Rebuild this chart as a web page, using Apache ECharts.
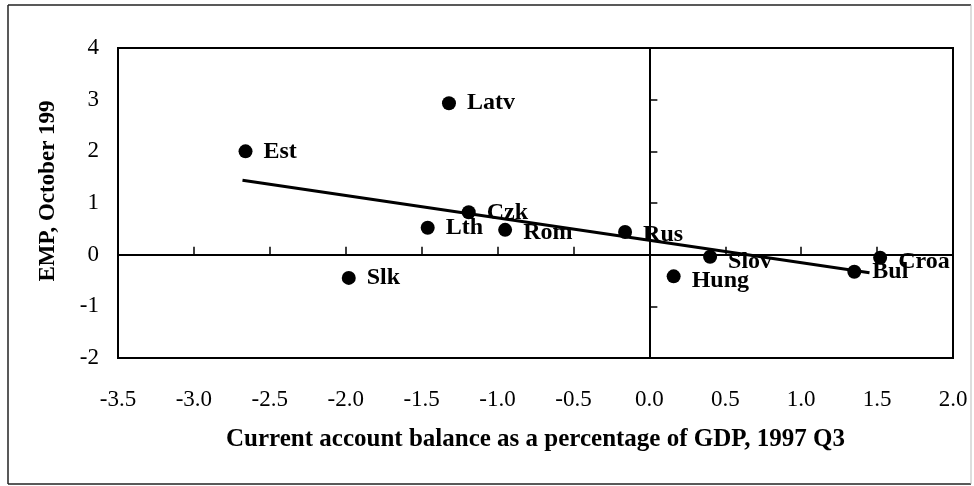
<!DOCTYPE html>
<html>
<head>
<meta charset="utf-8">
<title>EMP vs current account balance</title>
<script src="https://cdn.jsdelivr.net/npm/echarts@6/dist/echarts.min.js"></script>
<style>
  html, body { margin: 0; padding: 0; background: #fff; }
  #chart { width: 974px; height: 486px; }
</style>
</head>
<body>
<div id="chart"></div>
<script>
// countries and their (current account, EMP) readings
const countries = ['Est', 'Latv', 'Czk', 'Lth', 'Rom', 'Rus', 'Slk', 'Slov', 'Hung', 'Croa', 'Bul'];
const currentAccount = [-2.66, -1.32, -1.19, -1.46, -0.95, -0.16, -1.98, 0.40, 0.16, 1.52, 1.35];
const emp = [2.0, 2.93, 0.82, 0.52, 0.48, 0.44, -0.45, -0.04, -0.42, -0.06, -0.33];

// fitted line end points
const fitX = [-2.68, 1.45];
const fitY = [1.44, -0.35];

// axis ranges
const xMin = -3.5, xMax = 2.0, xStep = 0.5;
const yMin = -2, yMax = 4, yStep = 1;

const serif = "'Liberation Serif', 'Times New Roman', serif";

// small nudges for labels that sit off their dot
const labelOffsets = {
  Slov: [0, 5],
  Croa: [0, 4],
  Rus: [0, 3],
  Rom: [0, 3],
  Hung: [0, 4]
};

const chart = echarts.init(document.getElementById('chart'));

const points = countries.map((name, i) => {
  const p = { name: name, value: [currentAccount[i], emp[i]] };
  if (labelOffsets[name]) {
    p.label = { offset: labelOffsets[name] };
  }
  return p;
});

chart.setOption({
  backgroundColor: '#fff',
  animation: false,
  grid: {
    left: 118,
    right: 21,
    top: 48,
    bottom: 128,
    show: true,
    borderColor: '#000',
    borderWidth: 2
  },
  graphic: [
    { type: 'line', shape: { x1: 8, y1: 5, x2: 971, y2: 5 }, style: { stroke: '#222', lineWidth: 1.5 } },
    { type: 'line', shape: { x1: 8, y1: 5, x2: 8, y2: 484 }, style: { stroke: '#222', lineWidth: 1.5 } },
    { type: 'line', shape: { x1: 8, y1: 484, x2: 971, y2: 484 }, style: { stroke: '#222', lineWidth: 1.5 } },
    { type: 'line', shape: { x1: 971, y1: 5, x2: 971, y2: 484 }, style: { stroke: '#bbb', lineWidth: 1 } }
  ],
  xAxis: [
    {
      type: 'value',
      min: xMin,
      max: xMax,
      interval: xStep,
      position: 'bottom',
      axisLine: { show: false, onZero: false },
      axisTick: { show: false },
      splitLine: { show: false },
      axisLabel: {
        margin: 30,
        color: '#000',
        fontFamily: serif,
        fontSize: 23,
        formatter: v => v.toFixed(1)
      },
      name: 'Current account balance as a percentage of GDP, 1997 Q3',
      nameLocation: 'middle',
      nameGap: 69,
      nameTextStyle: {
        color: '#000',
        fontFamily: serif,
        fontWeight: 'bold',
        fontSize: 25
      }
    },
    {
      type: 'value',
      min: xMin,
      max: xMax,
      interval: xStep,
      position: 'bottom',
      axisLine: { show: true, onZero: true, onZeroAxisIndex: 0, lineStyle: { color: '#000', width: 2 } },
      axisTick: { show: true, inside: true, length: 8, lineStyle: { color: '#000', width: 1.5 } },
      axisLabel: { show: false },
      splitLine: { show: false }
    }
  ],
  yAxis: [
    {
      type: 'value',
      min: yMin,
      max: yMax,
      interval: yStep,
      position: 'left',
      axisLine: { show: false, onZero: false },
      axisTick: { show: false },
      splitLine: { show: false },
      axisLabel: {
        margin: 19,
        color: '#000',
        fontFamily: serif,
        fontSize: 23
      },
      name: 'EMP, October 199',
      nameLocation: 'middle',
      nameGap: 58,
      nameTextStyle: {
        color: '#000',
        fontFamily: serif,
        fontWeight: 'bold',
        fontSize: 23,
        padding: [0, 0, 0, 24]
      }
    },
    {
      type: 'value',
      min: yMin,
      max: yMax,
      interval: yStep,
      position: 'left',
      axisLine: { show: true, onZero: true, onZeroAxisIndex: 0, lineStyle: { color: '#000', width: 2 } },
      axisTick: { show: true, inside: true, length: 8, lineStyle: { color: '#000', width: 1.5 } },
      axisLabel: { show: false },
      splitLine: { show: false }
    }
  ],
  series: [
    {
      name: 'Fit',
      type: 'line',
      xAxisIndex: 0,
      yAxisIndex: 0,
      data: fitX.map((x, i) => [x, fitY[i]]),
      symbol: 'none',
      lineStyle: { color: '#000', width: 3 },
      z: 3
    },
    {
      name: 'Countries',
      type: 'scatter',
      xAxisIndex: 0,
      yAxisIndex: 0,
      data: points,
      symbolSize: 14,
      itemStyle: { color: '#000', opacity: 1 },
      label: {
        show: true,
        position: 'right',
        distance: 11,
        formatter: '{b}',
        color: '#000',
        fontFamily: serif,
        fontWeight: 'bold',
        fontSize: 24
      },
      z: 4
    }
  ]
});
</script>
</body>
</html>
